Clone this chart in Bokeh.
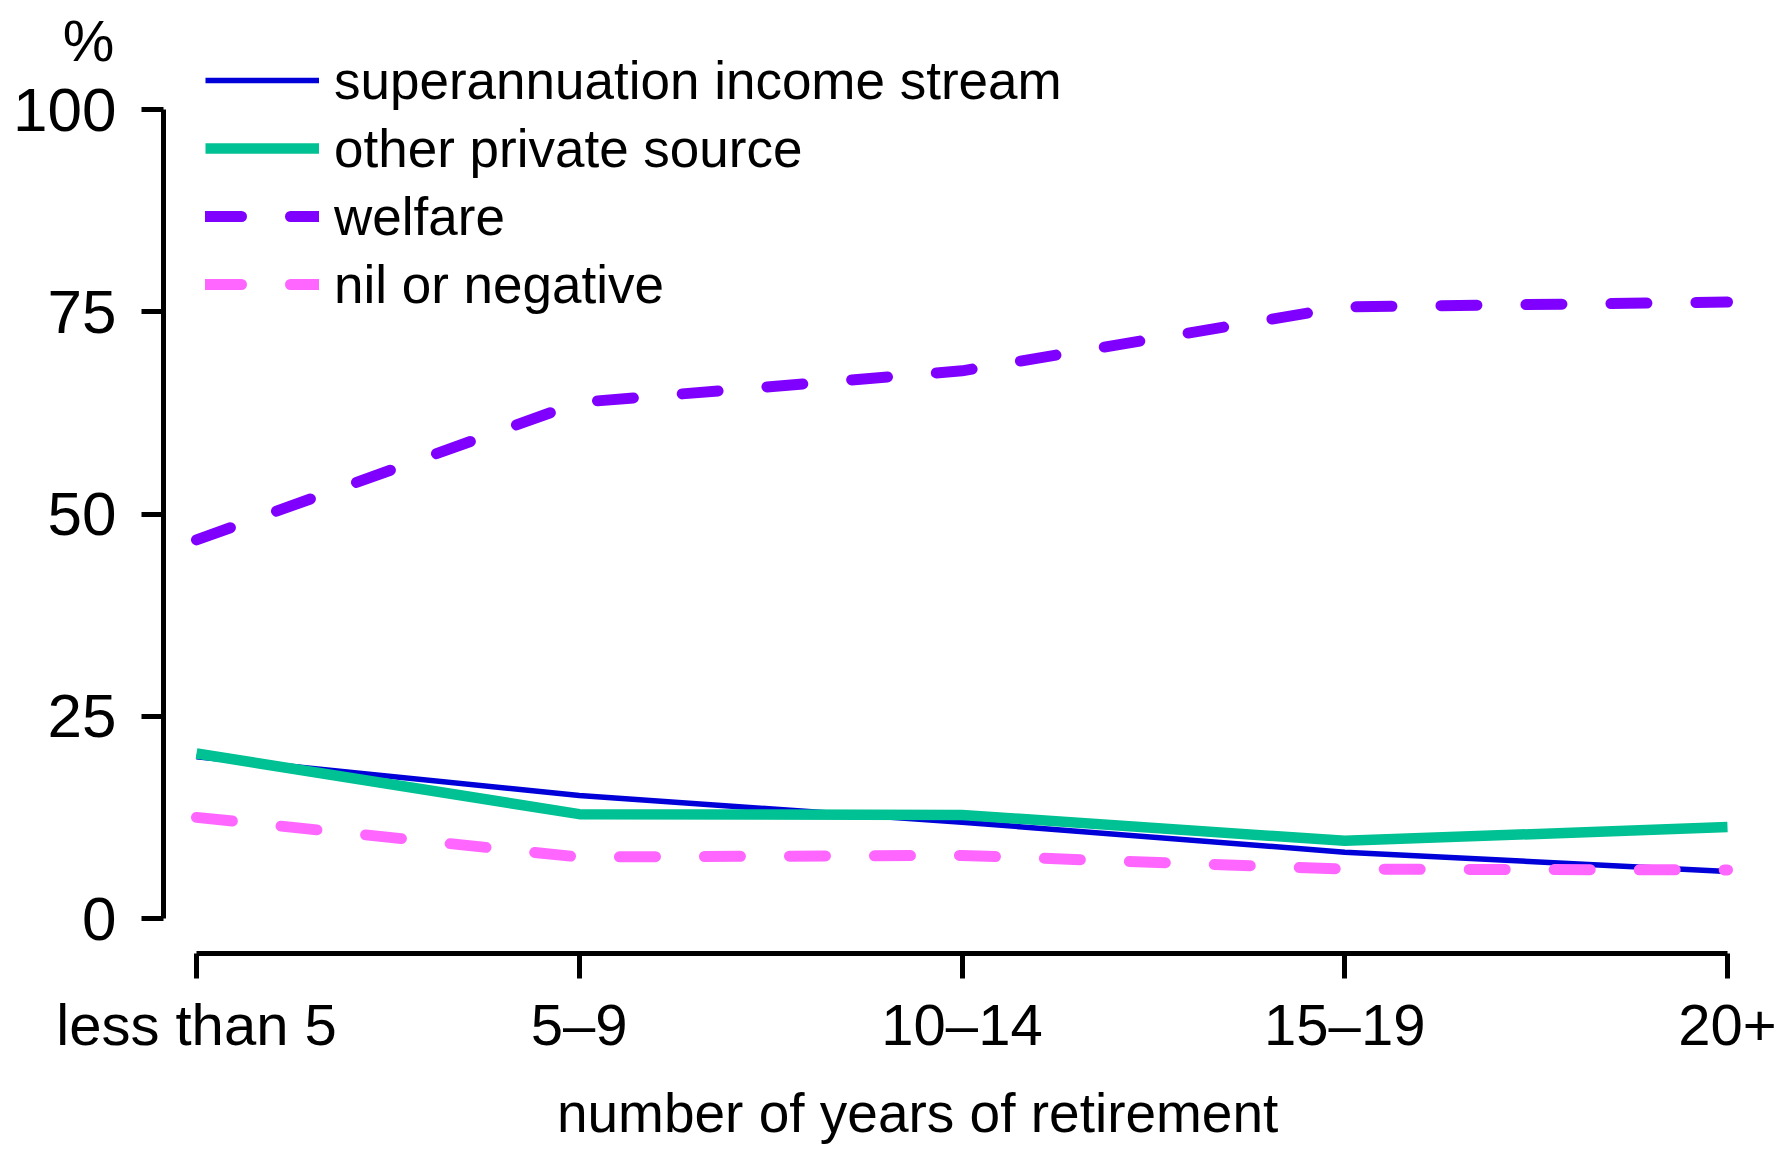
from bokeh.plotting import figure
from bokeh.models import Legend, LegendItem, FixedTicker, Label, Range1d
from bokeh.embed import file_html
from bokeh.resources import INLINE

# ---- data ----
categories = ["less than 5", "5–9", "10–14", "15–19", "20+"]
superannuation = [20.0, 15.2, 11.9, 8.2, 5.8]
other_private = [20.4, 12.9, 12.8, 9.6, 11.3]
welfare = [46.8, 63.8, 67.7, 75.6, 76.2]
nil_negative = [12.5, 7.6, 7.8, 6.1, 6.0]
y_ticks = [0, 25, 50, 75, 100]
y_unit = "%"
x_title = "number of years of retirement"

xs = list(range(len(categories)))

FONT = "Liberation Sans, Arial, sans-serif"

W, H = 1784, 1149
p = figure(width=W, height=H, output_backend="svg", toolbar_location=None,
           x_range=Range1d(-0.5121, 4.1489), y_range=Range1d(-28.553, 113.474),
           min_border=0, min_border_left=0, min_border_right=0,
           min_border_top=0, min_border_bottom=0)
p.outline_line_color = None
p.xgrid.visible = False
p.ygrid.visible = False
p.background_fill_color = "white"
p.border_fill_color = "white"

r_sup = p.line(xs, superannuation, line_color="#0000D8", line_width=5.5, line_join="round")
r_oth = p.line(xs, other_private, line_color="#00C193", line_width=10.5, line_join="round")
r_wel = p.line(xs, welfare, line_color="#8000FF", line_width=11, line_dash="36 49",
               line_cap="round", line_join="round")
r_nil = p.line(xs, nil_negative, line_color="#FF66FF", line_width=11, line_dash="36 49",
               line_cap="round", line_join="round")

# y axis
ya = p.yaxis[0]
ya.fixed_location = -0.0862
ya.ticker = FixedTicker(ticks=y_ticks)
ya.bounds = (0, 100)
ya.axis_line_width = 5
ya.major_tick_line_width = 5
ya.major_tick_out = 22
ya.major_tick_in = 0
ya.minor_tick_line_color = None
ya.major_label_text_font = FONT
ya.major_label_text_font_size = "62px"
ya.major_label_text_color = "black"
ya.major_label_standoff = 25

# x axis
xa = p.xaxis[0]
xa.fixed_location = -4.326
xa.ticker = FixedTicker(ticks=xs)
xa.major_label_overrides = {i: c for i, c in zip(xs, categories)}
xa.bounds = (0, len(categories) - 1)
xa.axis_line_width = 5
xa.major_tick_line_width = 5
xa.major_tick_out = 25
xa.major_tick_in = 0
xa.minor_tick_line_color = None
xa.major_label_text_font = FONT
xa.major_label_text_font_size = "58px"
xa.major_label_text_color = "black"
xa.major_label_standoff = 13

xlab = Label(x=1.884, y=-24.0, text=x_title, text_font=FONT, text_font_size="55px",
             text_align="center", text_baseline="alphabetic", text_color="black")
p.add_layout(xlab)

pct = Label(x=-0.2822, y=108.5, text=y_unit, text_font=FONT, text_font_size="58px",
            text_align="center", text_baseline="alphabetic", text_color="black")
p.add_layout(pct)

legend = Legend(items=[
    LegendItem(label="superannuation income stream", renderers=[r_sup]),
    LegendItem(label="other private source", renderers=[r_oth]),
    LegendItem(label="welfare", renderers=[r_wel]),
    LegendItem(label="nil or negative", renderers=[r_nil]),
], location=(205, 831))
legend.label_text_font = FONT
legend.label_text_font_size = "53px"
legend.label_text_color = "black"
legend.glyph_width = 114
legend.glyph_height = 68
legend.label_height = 68
legend.label_standoff = 15
legend.spacing = 0
legend.padding = 0
legend.margin = 0
legend.border_line_color = None
legend.background_fill_alpha = 0
p.add_layout(legend, "center")

open("out.html", "w").write(file_html(p, INLINE))
